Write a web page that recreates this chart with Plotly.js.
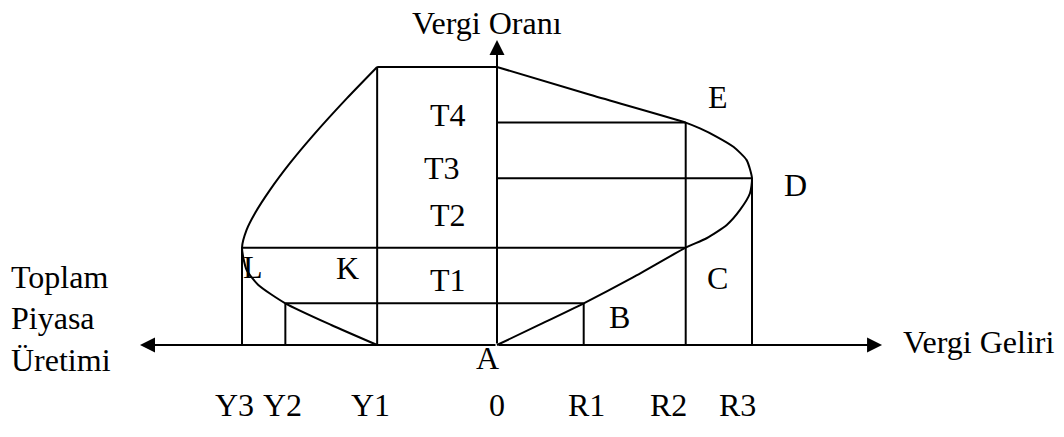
<!DOCTYPE html>
<html>
<head>
<meta charset="utf-8">
<script src="https://cdn.plot.ly/plotly-3.0.1.min.js"></script>
<style>html,body{margin:0;padding:0;background:#fff;}#chart{width:1064px;height:437px;}</style>
</head>
<body>
<div id="chart"></div>
<script>
// Laffer curve (right side: tax revenue vs tax rate)
const revenueCurveX = [0, 16.9, 34, 53.5, 74, 82.2, 90.1, 95.3, 99.2, 100, 97.9, 92.7, 86.2, 79.6, 74, 36.5, 0];
const revenueCurveY = [0, 7.4, 15, 24.4, 35, 38.4, 43.2, 48.6, 54.6, 60, 66.5, 71.3, 74.9, 77.9, 80, 90, 100];
// Output curve (left side: total market output vs tax rate, plotted negative)
const outputCurveX = [-47, -65, -83, -93.6, -98.2, -100, -98.2, -94.9, -89, -81.2, -72, -58.9, -47];
const outputCurveY = [0, 7.2, 15, 21.6, 27, 35, 41.4, 47.4, 55.8, 65.4, 75.5, 88.7, 100];

// vertical guide lines: x and height
const guideX = [-100, -83, -47, 34, 74, 100];
const guideTop = [35, 15, 100, 15, 80, 60];
// horizontal guide lines: level, from, to
const levelY = [100, 80, 60, 35, 15];
const levelFrom = [-47, 0, 0, -100, -83];
const levelTo = [0, 74, 100, 74, 34];

// axis extents
const axisLeft = -140, axisRight = 151, axisTop = 109.7;

// labels
const bottomLabels = ['Y3', 'Y2', 'Y1', '0', 'R1', 'R2', 'R3'];
const bottomLabelX = [-103.1, -84.3, -49.8, 0, 34.9, 67.1, 94.5];
const pointLabels = ['T4', 'T3', 'T2', 'T1', 'K', 'L', 'E', 'D', 'C', 'B', 'A'];
const pointLabelX = [-19.2, -21.6, -19.2, -19.2, -58.8, -95.7, 86.7, 116.9, 86.3, 48.2, -3.9];
const pointLabelY = [82.7, 63.7, 46.8, 23.4, 27.7, 28.1, 89.2, 57.6, 24.1, 10.1, -4.7];
const sideLabels = ['Toplam', 'Piyasa', 'Üretimi'];
const sideLabelY = [24.5, 9.7, -5.4];

const black = '#000';
const fontFam = '"Liberation Serif", "Times New Roman", serif';
const fs = 32;

const gx = [], gy = [];
guideX.forEach((x, i) => { gx.push(x, x, null); gy.push(0, guideTop[i], null); });
levelY.forEach((y, i) => { gx.push(levelFrom[i], levelTo[i], null); gy.push(y, y, null); });

const traces = [
  {x: gx, y: gy, mode: 'lines', line: {color: black, width: 2}, hoverinfo: 'skip'},
  {x: revenueCurveX, y: revenueCurveY, mode: 'lines', line: {color: black, width: 2, shape: 'spline', smoothing: 0.6}, hoverinfo: 'skip'},
  {x: outputCurveX, y: outputCurveY, mode: 'lines', line: {color: black, width: 2, shape: 'spline', smoothing: 0.6}, hoverinfo: 'skip'}
];

const ann = [];
function arrow(x, y) {
  ann.push({x: x, y: y, ax: 0, ay: 0, axref: 'x', ayref: 'y', xref: 'x', yref: 'y', text: '',
    showarrow: true, arrowhead: 2, arrowsize: 1.5, arrowwidth: 2, arrowcolor: black, standoff: 0, startstandoff: 0});
}
arrow(axisLeft, 0); arrow(axisRight, 0); arrow(0, axisTop);

function label(t, x, y, anchor) {
  ann.push({x: x, y: y, xref: 'x', yref: 'y', text: t, showarrow: false, xanchor: anchor || 'center', yanchor: 'middle',
    font: {family: fontFam, size: fs, color: black}});
}
bottomLabels.forEach((t, i) => label(t, bottomLabelX[i], -21.6));
pointLabels.forEach((t, i) => label(t, pointLabelX[i], pointLabelY[i]));
sideLabels.forEach((t, i) => label(t, -191.4, sideLabelY[i], 'left'));
label('Vergi Geliri', 158.4, 1.1, 'left');
label('Vergi Oranı', -3.9, 115.8);

const layout = {
  width: 1064, height: 437,
  margin: {l: 0, r: 0, t: 0, b: 0},
  paper_bgcolor: '#fff', plot_bgcolor: '#fff',
  showlegend: false,
  xaxis: {range: [-194.9, 222.35], visible: false, fixedrange: true},
  yaxis: {range: [-33.09, 124.1], visible: false, fixedrange: true},
  annotations: ann
};
Plotly.newPlot('chart', traces, layout, {staticPlot: true, displayModeBar: false});
</script>
</body>
</html>
